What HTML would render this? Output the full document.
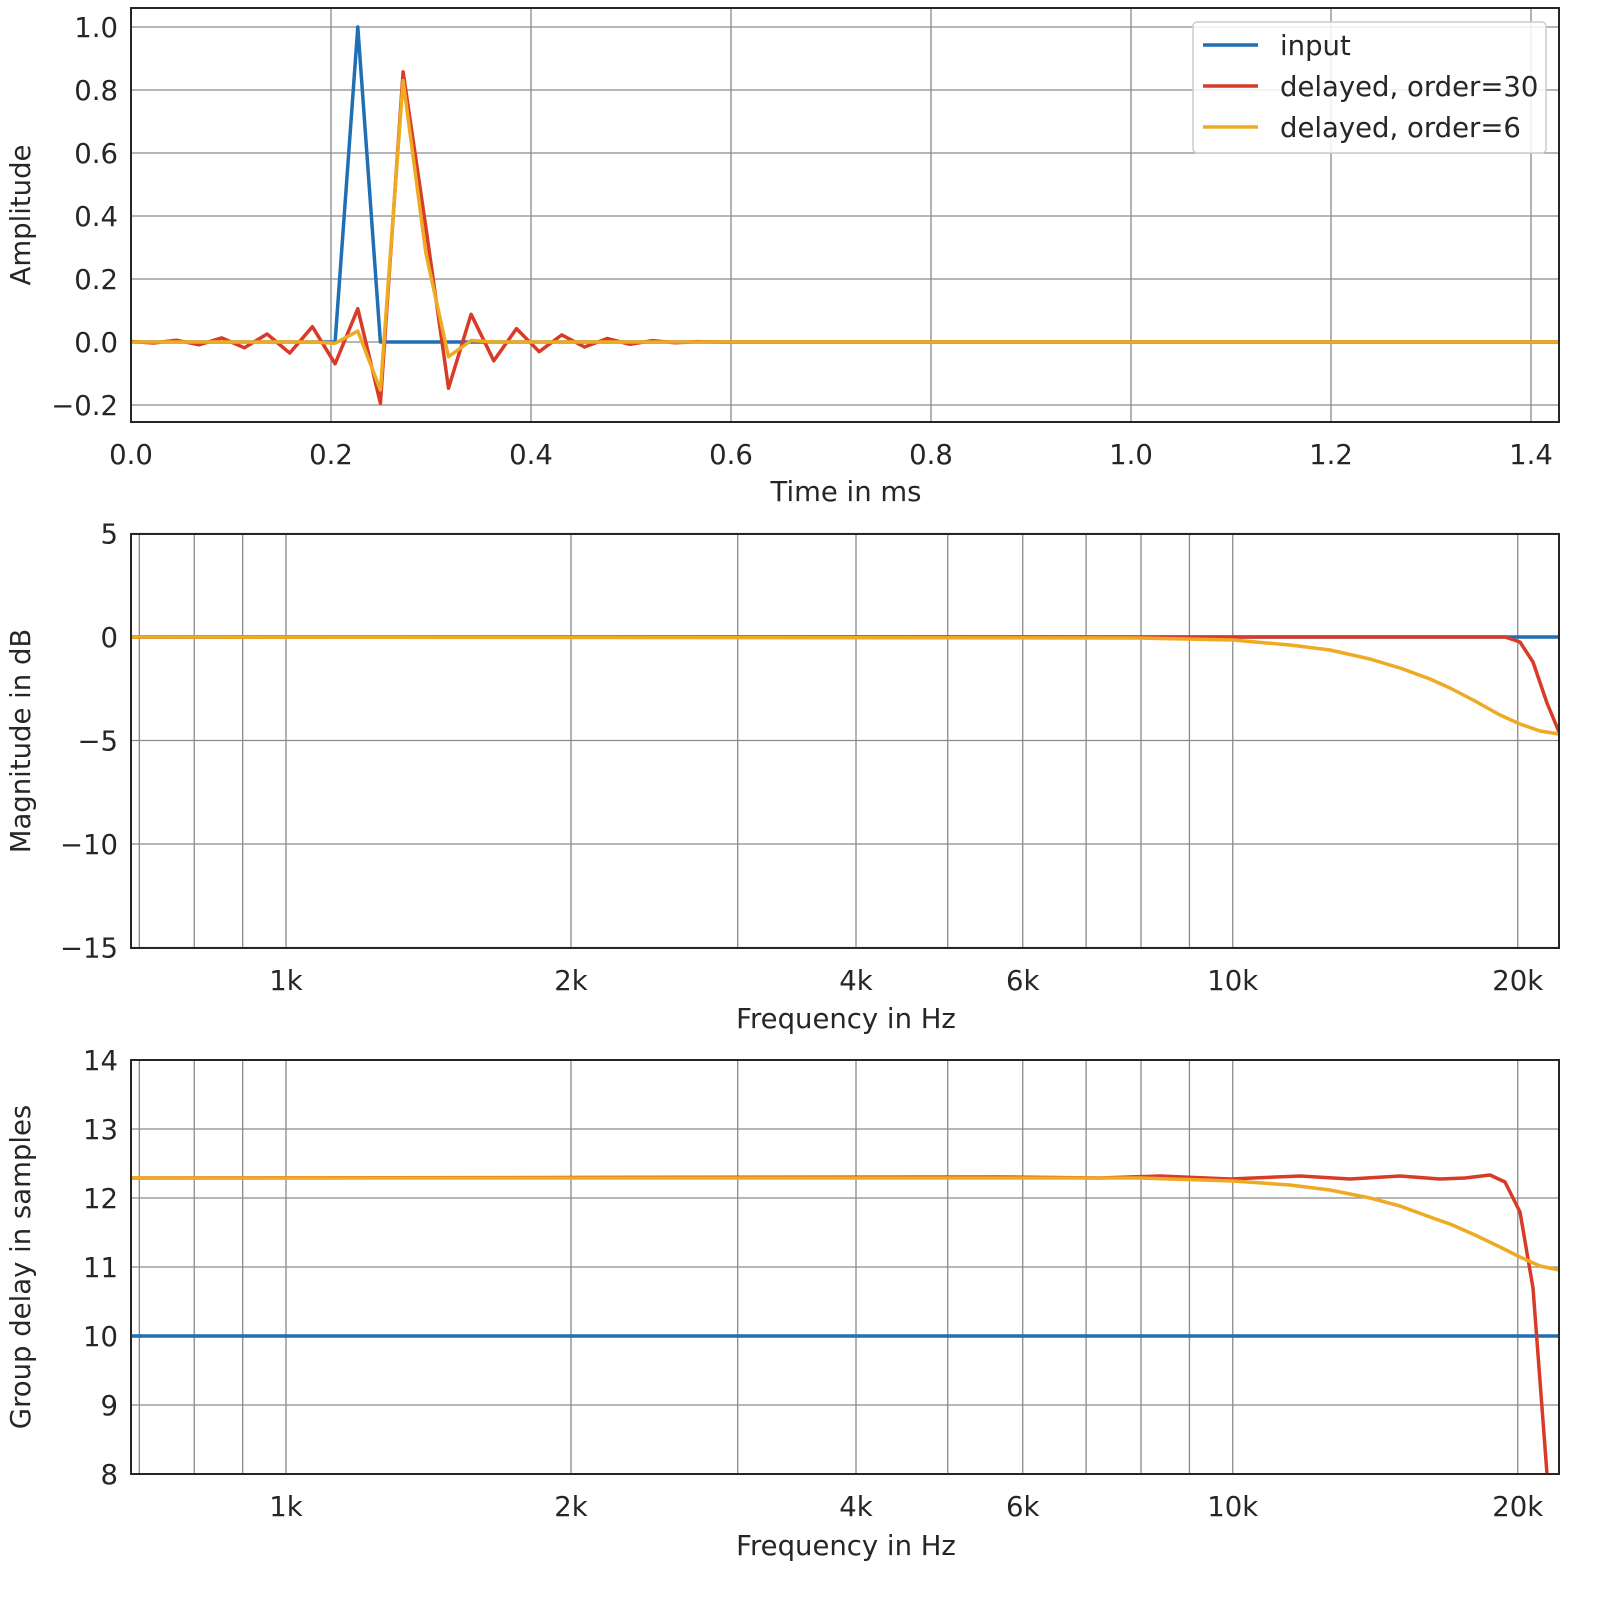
<!DOCTYPE html>
<html><head><meta charset="utf-8"><style>
html,body{margin:0;padding:0;background:#fff}
svg{display:block}
text{font-family:"DejaVu Sans","Liberation Sans",sans-serif;fill:#262626}
</style></head><body>
<svg id="s" width="1600" height="1600" xmlns="http://www.w3.org/2000/svg"></svg>
<script>
const S=document.getElementById('s');let h='';
const BLUE='#1f6fb4',RED='#d83b27',OR='#eeaa22',GRID='#8a8a8a';
function line(x1,y1,x2,y2,c,w){h+=`<line x1="${x1}" y1="${y1}" x2="${x2}" y2="${y2}" stroke="${c}" stroke-width="${w}"/>`;}
function txt(x,y,t,a,extra){h+=`<text x="${x}" y="${y}" font-size="27.5" text-anchor="${a||'middle'}" ${extra||''}>${t}</text>`;}
function poly(pts,c,clip){h+=`<polyline fill="none" stroke="${c}" stroke-width="3.5" stroke-linejoin="round" ${clip?`clip-path="url(#${clip})"`:''} points="${pts.map(p=>p[0].toFixed(1)+','+p[1].toFixed(1)).join(' ')}"/>`;}
const L=131,R=1559;
h+=`<defs><clipPath id="c1"><rect x="${L}" y="8" width="${R-L}" height="414"/></clipPath><clipPath id="c2"><rect x="${L}" y="534" width="${R-L}" height="414"/></clipPath><clipPath id="c3"><rect x="${L}" y="1060" width="${R-L}" height="414"/></clipPath></defs>`;
// ---- plot 1
const T=8,B=422; const xt=t=>131+1000*t, ya=v=>342-315*v;
for(let i=0;i<=7;i++){let x=xt(i*0.2);line(x,T,x,B,GRID,1.3);txt(x,464,(i*0.2).toFixed(1));}
[-0.2,0,0.2,0.4,0.6,0.8,1.0].forEach(v=>{let y=ya(v);line(L,y,R,y,GRID,1.3);txt(118,y+10,(v<0?'−':'')+Math.abs(v).toFixed(1),'end');});
const dt=1/44.1;
let blue=[],red=[],ora=[];
function sinc(x){return x==0?1:Math.sin(Math.PI*x)/(Math.PI*x);}
const D=3.3;
for(let k=0;k<=63;k++){
 blue.push([xt(k*dt),ya(k==10?1:0)]);
 let x=k-12.3,r=0; if(Math.abs(x)<15) r=sinc(x)*(0.5+0.5*Math.cos(Math.PI*x/15));
 red.push([xt(k*dt),ya(r)]);
 let o=0,j=k-9; if(j>=0&&j<=6){o=1;for(let i=0;i<=6;i++)if(i!=j)o*=(D-i)/(j-i);}
 if(k==12)o=0.83;
 ora.push([xt(k*dt),ya(o)]);
}
poly(blue,BLUE,'c1');poly(red,RED,'c1');poly(ora,OR,'c1');
h+=`<rect x="${L}" y="${T}" width="${R-L}" height="${B-T}" fill="none" stroke="#262626" stroke-width="2"/>`;
txt(846,501,'Time in ms');
txt(0,0,'Amplitude','middle','transform="translate(30,215) rotate(-90)"');
// legend
h+=`<rect x="1193" y="22" width="353" height="131" rx="4" fill="#fff" fill-opacity="0.85" stroke="#ccc" stroke-width="1.5"/>`;
[[BLUE,'input',45],[RED,'delayed, order=30',86],[OR,'delayed, order=6',127]].forEach(([c,t,y])=>{line(1203,y,1258,y,c,3.5);txt(1280,y+10,t,'start');});
// ---- frequency plots
const xf=f=>286+285*Math.log2(f/1000);
const fticks=[700,800,900,1000,2000,3000,4000,5000,6000,7000,8000,9000,10000,20000];
const flab={1000:'1k',2000:'2k',4000:'4k',6000:'6k',10000:'10k',20000:'20k'};
function fgrid(T,B,ly){fticks.forEach(f=>{let x=xf(f);line(x,T,x,B,GRID,1.3);if(flab[f])txt(x,ly,flab[f]);});}
// plot 2
const T2=534,B2=948,ym=v=>637-20.7*v;
fgrid(T2,B2,990);
[5,0,-5,-10,-15].forEach(v=>{let y=ym(v);line(L,y,R,y,GRID,1.3);txt(118,y+10,(v<0?'−':'')+Math.abs(v),'end');});
poly([[L,637],[R,637]],BLUE,'c2');
poly([[L,637],[1505,637],[1520,642],[1533,662],[1547,703],[1559,732]],RED,'c2');
poly([[L,637],[1140,638],[1233,640],[1290,645],[1330,650],[1370,659],[1400,668],[1430,679],[1450,688],[1475,701],[1500,715],[1520,724],[1540,731],[1559,734]],OR,'c2');
h+=`<rect x="${L}" y="${T2}" width="${R-L}" height="${B2-T2}" fill="none" stroke="#262626" stroke-width="2"/>`;
txt(846,1028,'Frequency in Hz');
txt(0,0,'Magnitude in dB','middle','transform="translate(30,741) rotate(-90)"');
// plot 3
const T3=1060,B3=1474,yg=v=>1474-69*(v-8);
fgrid(T3,B3,1516);
[8,9,10,11,12,13,14].forEach(v=>{let y=yg(v);line(L,y,R,y,GRID,1.3);txt(118,y+10,v,'end');});
poly([[L,1336],[R,1336]],BLUE,'c3');
poly([[L,1178],[1000,1177],[1100,1178],[1160,1176],[1230,1179],[1300,1176],[1350,1179],[1400,1176],[1440,1179],[1465,1178],[1490,1175],[1505,1182],[1520,1212],[1533,1288],[1547,1474],[1552,1520]],RED,'c3');
poly([[L,1178],[1140,1178],[1233,1181],[1290,1185],[1330,1190],[1370,1198],[1400,1206],[1430,1217],[1450,1224],[1475,1235],[1500,1247],[1520,1257],[1540,1266],[1559,1270]],OR,'c3');
h+=`<rect x="${L}" y="${T3}" width="${R-L}" height="${B3-T3}" fill="none" stroke="#262626" stroke-width="2"/>`;
txt(846,1555,'Frequency in Hz');
txt(0,0,'Group delay in samples','middle','transform="translate(30,1267) rotate(-90)"');
S.innerHTML=h;
</script>
</body></html>
